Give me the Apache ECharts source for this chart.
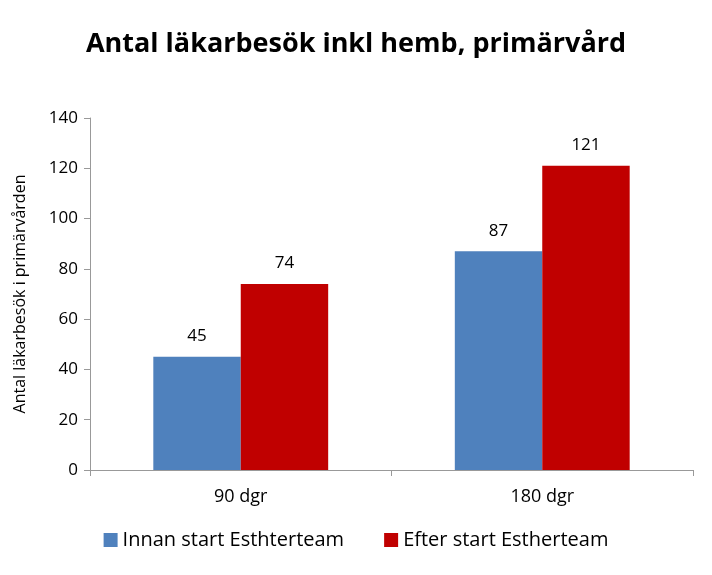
<!DOCTYPE html>
<html><head><meta charset="utf-8">
<script src="https://cdn.jsdelivr.net/npm/echarts@6/dist/echarts.min.js"></script>
<style>html,body{margin:0;padding:0;background:#fff}#c{width:712px;height:575px}</style>
</head><body><div id="c"></div>
<script>
const categories = ['90 dgr', '180 dgr'];
const innan = [45, 87];
const efter = [74, 121];
const yTicks = [0, 20, 40, 60, 80, 100, 120, 140];
const F = '"Open Sans", "Liberation Sans", sans-serif';
const chart = echarts.init(document.getElementById('c'));
chart.setOption({
  animation: false,
  title: {text: 'Antal läkarbesök inkl hemb, primärvård', left: 'center', top: 26,
    textStyle: {fontFamily: F, fontSize: 27, fontWeight: 'bold', color: '#000'}},
  grid: {left: 90, right: 19, top: 118, bottom: 105},
  legend: {bottom: 20, left: 'center', itemWidth: 14, itemHeight: 14, itemGap: 40, icon: 'rect',
    textStyle: {fontFamily: F, fontSize: 20, color: '#000'}},
  xAxis: {type: 'category', data: categories,
    axisLine: {lineStyle: {color: '#999'}},
    axisTick: {show: true, length: 6, lineStyle: {color: '#999'}},
    axisLabel: {fontFamily: F, fontSize: 18, color: '#000', margin: 18}},
  yAxis: {type: 'value', min: yTicks[0], max: yTicks[yTicks.length-1], interval: 20,
    name: 'Antal läkarbesök i primärvården', nameLocation: 'middle', nameGap: 62,
    nameTextStyle: {fontFamily: F, fontSize: 16, color: '#000'},
    axisLine: {show: true, lineStyle: {color: '#999'}},
    axisTick: {show: true, length: 6, inside: false, lineStyle: {color: '#999'}},
    splitLine: {show: false},
    axisLabel: {fontFamily: F, fontSize: 17, color: '#000', margin: 12}},
  series: [
    {name: 'Innan start Esthterteam', type: 'bar', data: innan, barGap: '0%', barCategoryGap: '42%',
     itemStyle: {color: '#4F81BD'},
     label: {show: true, position: 'top', distance: 12, fontFamily: F, fontSize: 17, color: '#000'}},
    {name: 'Efter start Estherteam', type: 'bar', data: efter,
     itemStyle: {color: '#C00000'},
     label: {show: true, position: 'top', distance: 12, fontFamily: F, fontSize: 17, color: '#000'}}
  ]
});
</script></body></html>
